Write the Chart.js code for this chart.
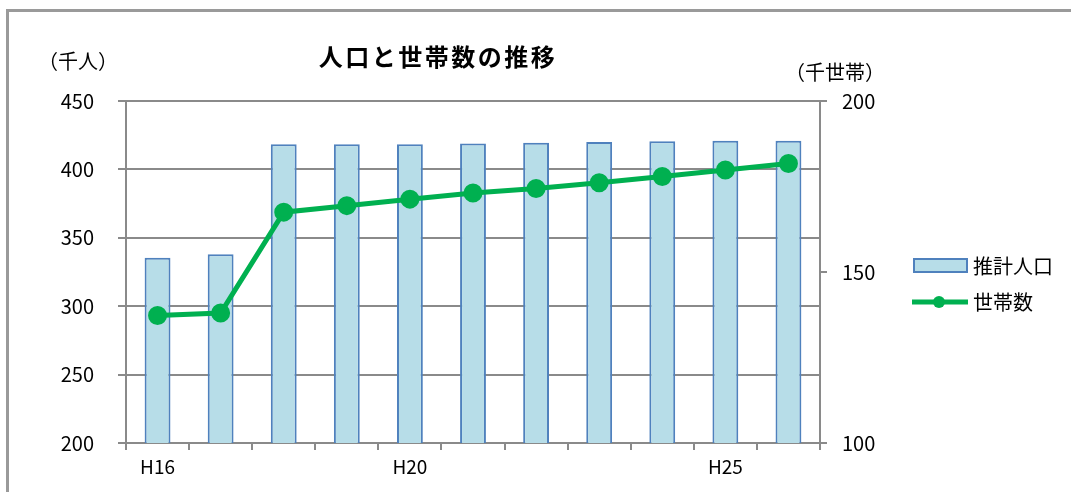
<!DOCTYPE html>
<html>
<head>
<meta charset="utf-8">
<script src="https://cdn.jsdelivr.net/npm/chart.js@4"></script>
<style>
  html, body { margin: 0; padding: 0; background: #fff; }
  #wrap { position: relative; width: 1071px; height: 492px; }
  canvas { display: block; }
</style>
</head>
<body>
<div id="wrap"><canvas id="c" width="1071" height="492"></canvas></div>
<script>
// ---- data ----
const categories = ['H16','H17','H18','H19','H20','H21','H22','H23','H24','H25','H26'];
const shownLabels = ['H16','H20','H25'];
const population = [335.5, 338, 418.3, 418.3, 418.3, 419, 419.5, 420, 420.5, 421, 421];   // 千人
const households = [137.3, 138, 167.5, 169.4, 171.3, 173.1, 174.4, 176.1, 177.9, 179.8, 181.7]; // 千世帯
const seriesNames = ['推計人口', '世帯数'];
const titleText = '人口と世帯数の推移';
const leftUnit = '（千人）';
const rightUnit = '（千世帯）';
const leftTicks = { min: 200, max: 450, step: 50 };
const rightTicks = { min: 100, max: 200, step: 50 };

const FONT = '"Noto Sans CJK JP", "Noto Sans", sans-serif';
const GRID = '#8a8a8a';

const decor = {
  id: 'decor',
  beforeDraw(chart) {
    const ctx = chart.ctx;
    ctx.save();
    ctx.strokeStyle = '#9a9a9a';
    ctx.lineWidth = 3;
    ctx.beginPath();
    ctx.moveTo(7.5, 492);
    ctx.lineTo(7.5, 10.5);
    ctx.lineTo(1071, 10.5);
    ctx.stroke();
    ctx.restore();
  },
  afterDraw(chart) {
    const ctx = chart.ctx;
    ctx.save();
    // title
    ctx.fillStyle = '#000';
    ctx.font = 'bold 24px ' + FONT;
    ctx.textBaseline = 'middle';
    ctx.textAlign = 'left';
    try { ctx.letterSpacing = '2.5px'; } catch (e) {}
    const w = ctx.measureText(titleText).width;
    ctx.fillText(titleText, 437 - w / 2 + 1, 57);
    try { ctx.letterSpacing = '0px'; } catch (e) {}
    // unit labels
    ctx.font = '20px ' + FONT;
    ctx.textAlign = 'center';
    ctx.fillText(leftUnit, 78, 61);
    ctx.fillText(rightUnit, 835, 72);
    // legend
    const ds0 = chart.data.datasets[0];
    const ds1 = chart.data.datasets[1];
    ctx.fillStyle = ds0.backgroundColor;
    ctx.fillRect(914, 259, 53, 13);
    ctx.strokeStyle = ds0.borderColor;
    ctx.lineWidth = 2;
    ctx.strokeRect(914, 259, 53, 13);
    ctx.strokeStyle = ds1.borderColor;
    ctx.lineWidth = 5;
    ctx.beginPath();
    ctx.moveTo(912, 302);
    ctx.lineTo(968, 302);
    ctx.stroke();
    ctx.fillStyle = ds1.pointBackgroundColor;
    ctx.beginPath();
    ctx.arc(939, 302, 6, 0, Math.PI * 2);
    ctx.fill();
    ctx.fillStyle = '#000';
    ctx.font = '20px ' + FONT;
    ctx.textAlign = 'left';
    ctx.textBaseline = 'middle';
    ctx.fillText(ds0.label, 973, 266);
    ctx.fillText(ds1.label, 973, 302);
    ctx.restore();
  }
};

new Chart(document.getElementById('c'), {
  data: {
    labels: categories,
    datasets: [
      {
        type: 'bar',
        label: seriesNames[0],
        data: population,
        yAxisID: 'y',
        backgroundColor: '#B7DDE8',
        borderColor: '#4F81BD',
        borderWidth: 2,
        barPercentage: 0.41,
        categoryPercentage: 1.0,
        order: 2
      },
      {
        type: 'line',
        label: seriesNames[1],
        data: households,
        yAxisID: 'y1',
        borderColor: '#00B050',
        backgroundColor: '#00B050',
        pointBackgroundColor: '#00B050',
        pointBorderColor: '#00B050',
        borderWidth: 5,
        pointRadius: 7,
        tension: 0,
        order: 1
      }
    ]
  },
  options: {
    responsive: false,
    animation: false,
    devicePixelRatio: 1,
    layout: { padding: { top: 101, left: 0, right: 0, bottom: 0 } },
    plugins: { legend: { display: false }, title: { display: false }, tooltip: { enabled: false } },
    scales: {
      x: {
        type: 'category',
        offset: true,
        grid: { display: true, drawOnChartArea: false, offset: true, color: GRID, lineWidth: 2, tickLength: 7 },
        border: { display: true, color: GRID, width: 2 },
        ticks: {
          autoSkip: false, maxRotation: 0, padding: 5, color: '#000',
          font: { family: FONT, size: 19 },
          callback(v) { const l = this.getLabelForValue(v); return shownLabels.includes(l) ? l : ''; }
        },
        afterFit(s) { s.height = 49; }
      },
      y: {
        position: 'left',
        min: leftTicks.min, max: leftTicks.max,
        grid: { color: GRID, lineWidth: 2, tickLength: 8 },
        border: { display: true, color: GRID, width: 2 },
        ticks: { stepSize: leftTicks.step, padding: 24, color: '#000', font: { family: FONT, size: 20 } },
        afterFit(s) { s.width = 126; }
      },
      y1: {
        position: 'right',
        min: rightTicks.min, max: rightTicks.max,
        grid: { drawOnChartArea: false, color: GRID, lineWidth: 2, tickLength: 7 },
        border: { display: true, color: GRID, width: 2 },
        ticks: { stepSize: rightTicks.step, padding: 15, color: '#000', font: { family: FONT, size: 20 } },
        afterFit(s) { s.width = 251; }
      }
    }
  },
  plugins: [decor]
});
</script>
</body>
</html>
